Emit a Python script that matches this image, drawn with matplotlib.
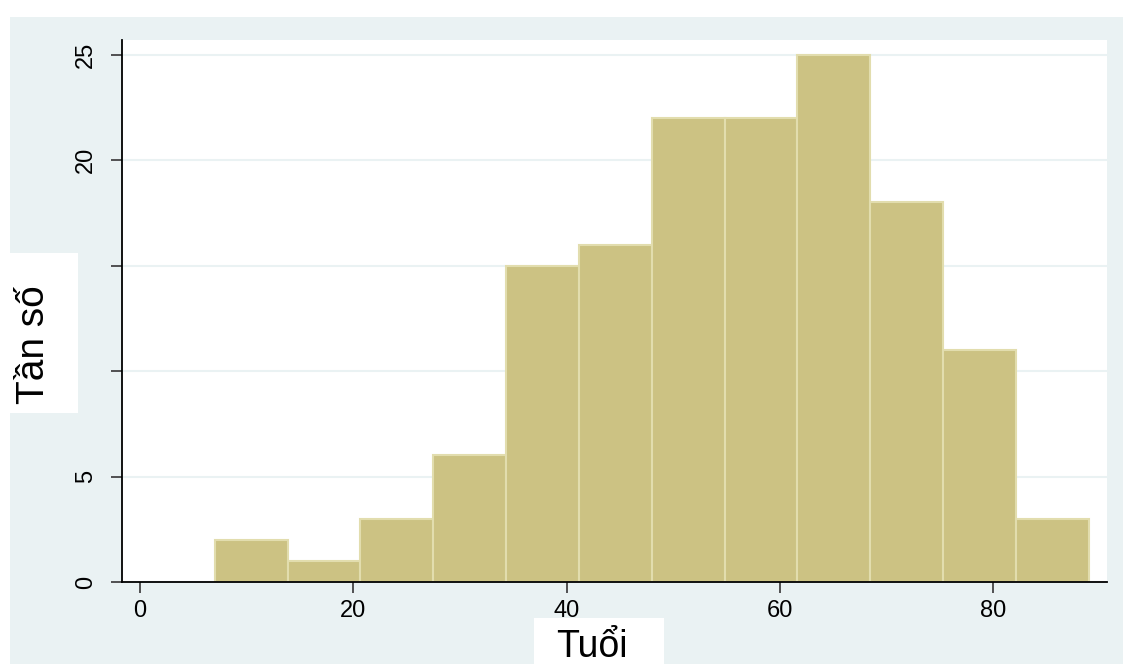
import numpy as np
import matplotlib
matplotlib.use("Agg")
import matplotlib.pyplot as plt
from matplotlib.patches import Rectangle

plt.rcParams['font.family'] = ['Liberation Sans', 'DejaVu Sans']

# Histogram of ages: 12 equal bins from 7 to 89
bin_start = 7.0
bin_end = 89.0
counts = [2, 1, 3, 6, 15, 16, 22, 22, 25, 18, 11, 3]
x_ticks = [0, 20, 40, 60, 80]
y_ticks = [0, 5, 10, 15, 20, 25]
y_tick_labels = ["0", "5", "", "", "20", "25"]
x_label = "Tuổi"
y_label = "Tần số"

edges = np.linspace(bin_start, bin_end, len(counts) + 1)
widths = np.diff(edges)

W, H = 1123, 664
bg = "#EAF2F3"
bar_face = "#CCC283"
bar_edge = "#E2DDAE"


def fx(px):
    return px / W


def fy(py):
    return 1 - py / H


fig = plt.figure(figsize=(W / 100, H / 100), dpi=100, facecolor="white")

# graph region background (leaves a thin white margin at top and left)
fig.patches.append(Rectangle((fx(10), 0), 1 - fx(10), fy(17), transform=fig.transFigure,
                             facecolor=bg, edgecolor="none", zorder=-10))

ax = fig.add_axes([fx(122), fy(582), fx(1107) - fx(122), fy(40) - fy(582)])
ax.set_facecolor("white")

ax.bar(edges[:-1], counts, width=widths, align="edge",
       color=bar_face, edgecolor=bar_edge, linewidth=1.5, zorder=2)

ax.set_xlim(-1.7, 90.7)
ax.set_ylim(0, 25.7)
ax.set_xticks(x_ticks)
ax.set_yticks(y_ticks)
ax.set_yticklabels(y_tick_labels, rotation=90, va="center")

ax.grid(axis="y", color=bg, linewidth=1.5, zorder=0)
ax.set_axisbelow(True)

for side in ("top", "right"):
    ax.spines[side].set_visible(False)
for side in ("left", "bottom"):
    ax.spines[side].set_color("black")
    ax.spines[side].set_linewidth(1.3)

ax.tick_params(axis="both", direction="out", length=8, width=1.3,
               color="#444444", labelsize=17, labelcolor="black")
ax.tick_params(axis="x", pad=5)
ax.tick_params(axis="y", pad=10)

# axis titles on white boxes
fig.patches.append(Rectangle((fx(10), fy(413)), fx(78) - fx(10), fy(253) - fy(413),
                             transform=fig.transFigure, facecolor="white",
                             edgecolor="none", zorder=5))
fig.patches.append(Rectangle((fx(534), 0), fx(664) - fx(534), fy(618),
                             transform=fig.transFigure, facecolor="white",
                             edgecolor="none", zorder=5))
fig.text(fx(44), fy(345), y_label, rotation=90, rotation_mode="anchor",
         ha="center", va="baseline", fontsize=28, color="black", zorder=6)
fig.text(fx(592), fy(657), x_label, ha="center", va="baseline",
         fontsize=27, color="black", zorder=6)

fig.savefig("out.png", dpi=100, facecolor="white")
